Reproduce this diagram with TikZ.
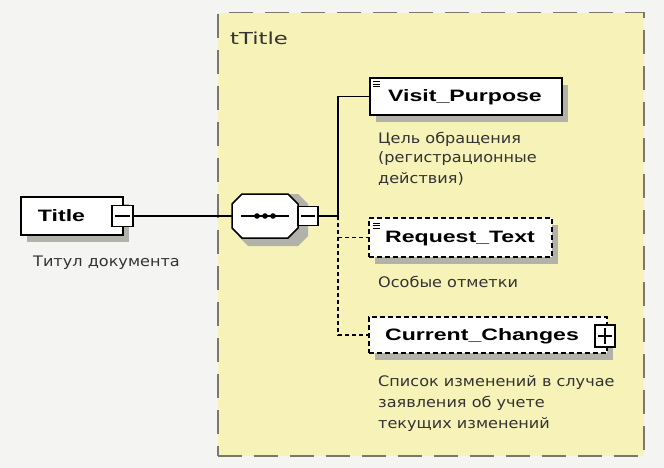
\documentclass[tikz,border=0pt]{standalone}
\usepackage{fontspec}
\setmainfont{DejaVu Sans}
\newfontfamily\elfont{Liberation Sans}[FakeStretch=1.4]
\newfontfamily\descfont{DejaVu Sans}[FakeStretch=1.11]
\newfontfamily\typefont{DejaVu Sans}[FakeStretch=1.38]
\usetikzlibrary{shadows}
\definecolor{bgc}{HTML}{F4F4F2}
\definecolor{ylw}{HTML}{F6F2B8}
\definecolor{framec}{HTML}{7A786A}
\definecolor{shd}{HTML}{B2B2AA}
\definecolor{txt}{HTML}{333333}
\tikzset{
  elbox/.style={draw=black, fill=white, line width=1.5pt, anchor=center,
    general shadow={fill=shd, shadow xshift=6pt, shadow yshift=-7pt}},
  optbox/.style={elbox, dash pattern=on 5pt off 3pt},
  smallbox/.style={draw=black, fill=white, line width=1.3pt, minimum width=20pt, minimum height=20pt, inner sep=0pt},
  elname/.style={font=\elfont\bfseries\fontsize{16.5}{18}\selectfont, text=black, inner sep=0pt},
  desc/.style={font=\descfont\fontsize{14.5}{20.5}\selectfont, text=txt, align=left, inner sep=0pt, anchor=base west},
  conn/.style={draw=black, line width=1.4pt},
  optconn/.style={draw=black, line width=1.4pt, dash pattern=on 4pt off 3pt},
  iconline/.style={draw=black, line width=0.8pt}
}
\begin{document}
\begin{tikzpicture}[x=1pt,y=-1pt]
\fill[bgc] (0,0) rectangle (664,468);
\useasboundingbox (0,0) rectangle (664,468);
% complex type container
\node[draw=framec, fill=ylw, line width=1.5pt, dash pattern=on 24pt off 12pt,
  minimum width=426pt, minimum height=443pt, anchor=north west, inner sep=0pt] (ctype) at (217,12) {};
\node[font=\typefont\fontsize{16.5}{18}\selectfont, text=txt, anchor=base west, inner sep=0pt] (ctname) at (230,45) {tTitle};

% Title element
\node[elbox, minimum width=102pt, minimum height=38pt, inner sep=0pt] (title) at (72,216) {};
\node[smallbox, minimum width=21pt, minimum height=21pt] (titleminus) at (122.5,216) {};
\draw[line width=1.2pt] ([xshift=4pt]titleminus.west) -- ([xshift=-4pt]titleminus.east);
\node[elname] (titlelbl) at (61.5,216) {Title};
\node[desc] (titledesc) at (33,266) {Титул документа};

% sequence compositor
\node[minimum width=66pt, minimum height=44pt, inner sep=0pt] (seq) at (265,216) {};
\fill[shd] (238,204) -- (248,194) -- (298,194) -- (308,204) -- (308,236) -- (298,246) -- (248,246) -- (238,236) -- cycle;
\filldraw[draw=black, fill=white, line width=1.5pt]
  (232,204) -- (242,194) -- (288,194) -- (298,204) -- (298,228) -- (288,238) -- (242,238) -- (232,228) -- cycle;
\draw[line width=1.3pt] (241,216) -- (289,216);
\foreach \dx in {257,265,273} \fill (\dx,216) circle (2.8pt);
\node[smallbox, minimum width=20pt, minimum height=19pt] (seqminus) at (308,216) {};
\draw[line width=1.2pt] ([xshift=4pt]seqminus.west) -- ([xshift=-4pt]seqminus.east);

% Visit_Purpose
\node[elbox, minimum width=192pt, minimum height=37pt, inner sep=0pt] (vp) at (466,96.5) {};
\node[elname] (vplbl) at (465,97) {Visit\_Purpose};
\draw[iconline] (373,81.5) -- (380,81.5) (373,84.2) -- (380,84.2) (373,86.9) -- (380,86.9);
\node[desc, font=\descfont\fontsize{14.5}{20}\selectfont] (vpdesc) at (378,183) {Цель обращения\\(регистрационные\\действия)};

% Request_Text
\node[optbox, minimum width=183pt, minimum height=39pt, inner sep=0pt] (rt) at (460.5,237.5) {};
\node[elname] (rtlbl) at (460,239) {Request\_Text};
\draw[iconline] (373,223) -- (380,223) (373,225.7) -- (380,225.7) (373,228.4) -- (380,228.4);
\node[desc] (rtdesc) at (378,287) {Особые отметки};

% Current_Changes
\node[optbox, minimum width=238pt, minimum height=36pt, inner sep=0pt] (cc) at (488,335) {};
\node[elname] (cclbl) at (482,336) {Current\_Changes};
\node[smallbox, minimum width=20pt, minimum height=22pt] (ccplus) at (605,336) {};
\draw[line width=1.2pt] ([xshift=4pt]ccplus.west) -- ([xshift=-4pt]ccplus.east)
  ([yshift=-4pt]ccplus.north) -- ([yshift=4pt]ccplus.south);
\node[desc, font=\descfont\fontsize{14.5}{21}\selectfont] (ccdesc) at (378,428) {Список изменений в случае\\заявления об учете\\текущих изменений};

% connectors
\coordinate (jn) at (338,216);
\draw[conn] (titleminus.east) -- (seq.west);
\draw[conn] (seqminus.east) -- (jn) |- (vp.west);
\draw[optconn] (jn) |- (cc.west);
\draw[optconn] (jn |- rt.west) -- (rt.west);
\end{tikzpicture}
\end{document}
